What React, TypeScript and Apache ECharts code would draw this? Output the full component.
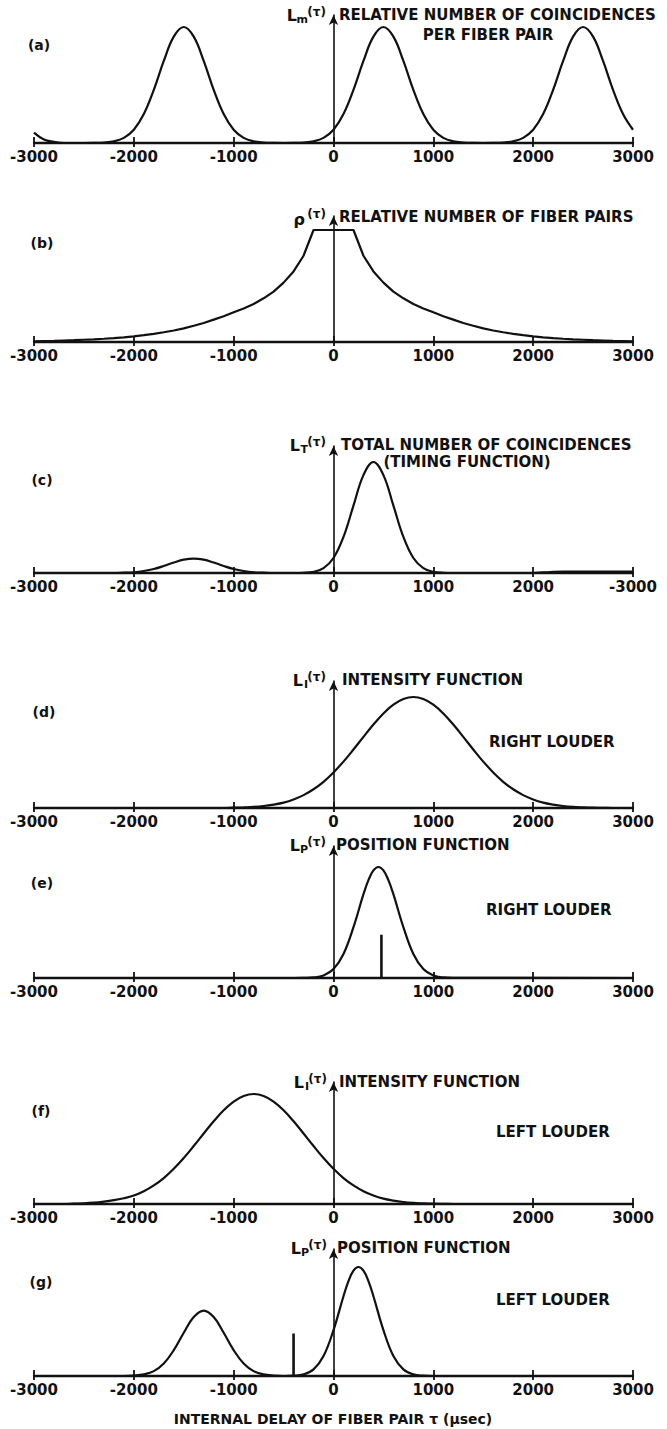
import React, { useEffect, useRef } from "react";
import * as echarts from "echarts";

// Internal delay of fiber pair, tau (usec)
const TAU = [
  -3000, -2900, -2800, -2700, -2600, -2500, -2400, -2300, -2200, -2100,
  -2000, -1900, -1800, -1700, -1600, -1500, -1400, -1300, -1200, -1100,
  -1000, -900, -800, -700, -600, -500, -400, -300, -200, -100,
  0,
  100, 200, 300, 400, 500, 600, 700, 800, 900, 1000,
  1100, 1200, 1300, 1400, 1500, 1600, 1700, 1800, 1900, 2000,
  2100, 2200, 2300, 2400, 2500, 2600, 2700, 2800, 2900, 3000,
];

const TICK_LABELS = ["-3000", "-2000", "-1000", "0", "1000", "2000", "3000"];
const TICK_LABELS_C = ["-3000", "-2000", "-1000", "0", "1000", "2000", "-3000"];

// (a) Lm(tau): relative number of coincidences per fiber pair
const L_M = [
  0.09, 0.03, 0.01, 0, 0, 0, 0.001, 0.004, 0.014, 0.044,
  0.114, 0.249, 0.458, 0.707, 0.917, 1, 0.917, 0.707, 0.458, 0.249,
  0.114, 0.044, 0.014, 0.004, 0.001, 0, 0.001, 0.004, 0.014, 0.044,
  0.114, 0.249, 0.458, 0.707, 0.917, 1, 0.917, 0.707, 0.458, 0.249,
  0.114, 0.044, 0.014, 0.004, 0.001, 0, 0.001, 0.004, 0.014, 0.044,
  0.114, 0.249, 0.458, 0.707, 0.917, 1, 0.917, 0.707, 0.458, 0.249,
  0.114,
];

// (b) rho(tau): relative number of fiber pairs
const RHO = [
  0.006, 0.008, 0.01, 0.013, 0.016, 0.02, 0.024, 0.029, 0.035, 0.042,
  0.051, 0.061, 0.073, 0.087, 0.103, 0.122, 0.145, 0.17, 0.2, 0.23,
  0.265, 0.3, 0.34, 0.39, 0.45, 0.53, 0.63, 0.77, 1, 1,
  1,
  1, 1, 0.77, 0.63, 0.53, 0.45, 0.39, 0.34, 0.3, 0.265,
  0.23, 0.2, 0.17, 0.145, 0.122, 0.103, 0.087, 0.073, 0.061, 0.051,
  0.042, 0.035, 0.029, 0.024, 0.02, 0.016, 0.013, 0.01, 0.008, 0.006,
];

// (c) LT(tau): total number of coincidences (timing function)
const L_T = [
  0, 0, 0, 0, 0, 0, 0, 0, 0, 0.003,
  0.007, 0.018, 0.036, 0.063, 0.094, 0.12, 0.13, 0.12, 0.094, 0.063,
  0.036, 0.018, 0.007, 0.003, 0, 0, 0, 0.002, 0.011, 0.044,
  0.135, 0.325, 0.607, 0.882, 1, 0.882, 0.607, 0.325, 0.135, 0.044,
  0.011, 0.002, 0, 0, 0, 0, 0, 0, 0, 0,
  0, 0.005, 0.01, 0.012, 0.012, 0.012, 0.012, 0.012, 0.012, 0.012,
  0.012,
];

// (d) LI(tau): intensity function, right louder
const L_I_RIGHT = [
  0, 0, 0, 0, 0, 0, 0, 0, 0, 0,
  0, 0, 0, 0, 0, 0, 0, 0, 0, 0,
  0.003, 0.006, 0.01, 0.018, 0.031, 0.049, 0.077, 0.116, 0.169, 0.236,
  0.32, 0.418, 0.527, 0.641, 0.752, 0.852, 0.931, 0.982, 1, 0.982,
  0.931, 0.852, 0.752, 0.641, 0.527, 0.418, 0.32, 0.236, 0.169, 0.116,
  0.077, 0.049, 0.031, 0.018, 0.01, 0.006, 0.003, 0.0016, 0, 0,
  0,
];

// (e) LP(tau): position function, right louder
const TAU_E = [
  -3000, -400, -300, -200, -100, 0, 100, 200, 300, 350, 400,
  450, 500, 550, 600, 700, 800, 900, 1000, 1100, 1200, 3000,
];
const L_P_RIGHT = [
  0, 0, 0.001, 0.005, 0.023, 0.08, 0.216, 0.458, 0.755, 0.882, 0.969,
  1, 0.969, 0.882, 0.755, 0.458, 0.216, 0.08, 0.023, 0.005, 0.001, 0,
];
const SPIKE_RIGHT = { tau: 480, height: 0.39 };

// (f) LI(tau): intensity function, left louder
const L_I_LEFT = [
  0, 0, 0, 0, 0.003, 0.006, 0.012, 0.022, 0.035, 0.052,
  0.077, 0.116, 0.169, 0.236, 0.32, 0.418, 0.527, 0.641, 0.752, 0.852,
  0.931, 0.982, 1, 0.982, 0.931, 0.852, 0.752, 0.641, 0.527, 0.418,
  0.32, 0.236, 0.169, 0.116, 0.077, 0.049, 0.031, 0.018, 0.01, 0.006,
  0.003, 0.0016, 0, 0, 0, 0, 0, 0, 0, 0,
  0, 0, 0, 0, 0, 0, 0, 0, 0, 0,
  0,
];

// (g) LP(tau): position function, left louder
const TAU_G = [
  -3000, -2100,
  -2000, -1900, -1800, -1700, -1600, -1500, -1400, -1300, -1200, -1100,
  -1000, -900, -800, -700, -600, -500, -400, -300, -200, -100,
  0, 100, 150, 200, 250, 300, 350, 400, 500, 600, 700, 800, 900, 1000, 3000,
];
const L_P_LEFT = [
  0, 0,
  0.004, 0.015, 0.045, 0.115, 0.237, 0.397, 0.541, 0.6, 0.541, 0.397,
  0.237, 0.115, 0.045, 0.015, 0.004, 0, 0.003, 0.015, 0.061, 0.183,
  0.421, 0.732, 0.871, 0.966, 1, 0.966, 0.871, 0.732, 0.421, 0.183, 0.061, 0.015, 0.003, 0, 0,
];
const SPIKE_LEFT = { tau: -400, height: 0.39 };

const FONT = "DejaVu Sans";
const INK = "#111111";
const W = 667;
const H = 1429;
const X_LEFT = 34;
const X_RIGHT = 633;

type Panel = {
  id: string;
  tau: number[];
  values: number[];
  tip: number; // pixel y of arrow tip
  axis: number; // pixel y of the tau axis
  peak: number; // pixel y for value 1
  labels: string[];
  spike?: { tau: number; height: number };
  smooth: number | boolean;
};

const PANELS: Panel[] = [
  { id: "a", tau: TAU, values: L_M, tip: 11, axis: 143, peak: 27, labels: TICK_LABELS, smooth: 0.4 },
  { id: "b", tau: TAU, values: RHO, tip: 212, axis: 342, peak: 230, labels: TICK_LABELS, smooth: false },
  { id: "c", tau: TAU, values: L_T, tip: 442, axis: 573, peak: 462, labels: TICK_LABELS_C, smooth: 0.4 },
  { id: "d", tau: TAU, values: L_I_RIGHT, tip: 677, axis: 808, peak: 697, labels: TICK_LABELS, smooth: 0.4 },
  { id: "e", tau: TAU_E, values: L_P_RIGHT, tip: 842, axis: 978, peak: 867, labels: TICK_LABELS, spike: SPIKE_RIGHT, smooth: 0.4 },
  { id: "f", tau: TAU, values: L_I_LEFT, tip: 1078, axis: 1204, peak: 1094, labels: TICK_LABELS, smooth: 0.4 },
  { id: "g", tau: TAU_G, values: L_P_LEFT, tip: 1245, axis: 1376, peak: 1267, labels: TICK_LABELS, spike: SPIKE_LEFT, smooth: 0.4 },
];

function txt(text: string, x: number, y: number, size: number, align = "left", weight = "bold") {
  return {
    type: "text",
    x,
    y,
    silent: true,
    style: {
      text,
      fontFamily: FONT,
      fontSize: size,
      fontWeight: weight,
      fill: INK,
      align,
      verticalAlign: "middle",
    },
  };
}

// L_sub(tau) label, right-aligned so that it ends at xr
function fnLabel(sub: string, subW: number, xr: number, y: number) {
  return [
    txt("(τ)", xr, y - 3, 12, "right"),
    txt(sub, xr - 18, y + 4, 11, "right"),
    txt("L", xr - 18 - subW - 1, y, 16, "right"),
  ];
}

export default function App() {
  const ref = useRef<HTMLDivElement>(null);

  useEffect(() => {
    if (!ref.current) return;
    const chart = echarts.init(ref.current, null, { renderer: "svg", width: W, height: H });

    const grids: any[] = [];
    const xAxes: any[] = [];
    const yAxes: any[] = [];
    const series: any[] = [];

    PANELS.forEach((p, k) => {
      const top = p.tip + 4;
      const yMax = (p.axis - top) / (p.axis - p.peak);
      grids.push({ left: X_LEFT, width: X_RIGHT - X_LEFT, top, height: p.axis - top, containLabel: false });
      const labels = p.labels;
      xAxes.push({
        type: "value",
        gridIndex: k,
        position: "bottom",
        min: -3000,
        max: 3000,
        interval: 1000,
        axisLine: { show: true, onZero: false, lineStyle: { color: INK, width: 2.3 } },
        axisTick: { show: true, inside: false, length: 4, lineStyle: { color: INK, width: 1.8 } },
        axisLabel: {
          show: true,
          margin: 6,
          fontFamily: FONT,
          fontSize: 15,
          fontWeight: "bold",
          color: INK,
          showMinLabel: true,
          showMaxLabel: true,
          formatter: (v: number) => labels[Math.round((v + 3000) / 1000)] ?? String(v),
        },
        splitLine: { show: false },
      });
      xAxes.push({
        type: "value",
        gridIndex: k,
        position: "bottom",
        offset: 0,
        min: -3000,
        max: 3000,
        interval: 1000,
        axisLine: { show: false, onZero: false },
        axisTick: { show: true, inside: true, length: 6, lineStyle: { color: INK, width: 1.8 } },
        axisLabel: { show: false },
        splitLine: { show: false },
      });
      yAxes.push({
        type: "value",
        gridIndex: k,
        min: 0,
        max: yMax,
        axisLine: {
          show: true,
          onZero: true,
          onZeroAxisIndex: 2 * k,
          symbol: ["none", "arrow"],
          symbolSize: [7, 10],
          lineStyle: { color: INK, width: 1.6 },
        },
        axisTick: { show: false },
        axisLabel: { show: false },
        splitLine: { show: false },
      });
      series.push({
        type: "line",
        name: p.id,
        xAxisIndex: 2 * k,
        yAxisIndex: k,
        data: p.tau.map((t, i) => [t, p.values[i]]),
        showSymbol: false,
        symbol: "none",
        smooth: p.smooth,
        lineStyle: { color: INK, width: 2.2 },
        silent: true,
        z: 3,
      });
      if (p.spike) {
        series.push({
          type: "line",
          name: p.id + "-spike",
          xAxisIndex: 2 * k,
          yAxisIndex: k,
          data: [
            [p.spike.tau, 0],
            [p.spike.tau, p.spike.height],
          ],
          showSymbol: false,
          symbol: "none",
          lineStyle: { color: INK, width: 2.6 },
          silent: true,
          z: 3,
        });
      }
    });

    const graphics: any[] = [
      // (a)
      txt("(a)", 39, 45, 14, "center"),
      ...fnLabel("m", 10, 326, 15),
      txt("RELATIVE NUMBER OF COINCIDENCES", 339, 15, 15),
      txt("PER FIBER PAIR", 488, 35, 15, "center"),
      // (b)
      txt("(b)", 42, 243, 14, "center"),
      txt("ρ", 305, 219, 16, "right"),
      txt("(τ)", 326, 214, 12, "right"),
      txt("RELATIVE NUMBER OF FIBER PAIRS", 339, 217, 15),
      // (c)
      txt("(c)", 42, 480, 14, "center"),
      ...fnLabel("T", 7, 326, 445),
      txt("TOTAL NUMBER OF COINCIDENCES", 341, 445, 15),
      txt("(TIMING FUNCTION)", 467, 462, 15, "center"),
      // (d)
      txt("(d)", 44, 712, 14, "center"),
      ...fnLabel("I", 4, 326, 680),
      txt("INTENSITY FUNCTION", 342, 680, 15),
      txt("RIGHT LOUDER", 489, 742, 15),
      // (e)
      txt("(e)", 42, 883, 14, "center"),
      ...fnLabel("P", 7, 326, 845),
      txt("POSITION FUNCTION", 336, 845, 15),
      txt("RIGHT LOUDER", 486, 910, 15),
      // (f)
      txt("(f)", 41, 1111, 14, "center"),
      ...fnLabel("I", 4, 327, 1082),
      txt("INTENSITY FUNCTION", 339, 1082, 15),
      txt("LEFT LOUDER", 496, 1132, 15),
      // (g)
      txt("(g)", 41, 1282, 14, "center"),
      ...fnLabel("P", 7, 327, 1248),
      txt("POSITION FUNCTION", 337, 1248, 15),
      txt("LEFT LOUDER", 496, 1300, 15),
      // axis title
      txt("INTERNAL DELAY OF FIBER PAIR τ (μsec)", 333, 1419, 14, "center"),
    ];

    chart.setOption({
      animation: false,
      backgroundColor: "#ffffff",
      grid: grids,
      xAxis: xAxes,
      yAxis: yAxes,
      series,
      graphic: graphics,
    });

    return () => chart.dispose();
  }, []);

  return (
    <div
      ref={ref}
      style={{ position: "absolute", left: 0, top: 0, width: W, height: H, background: "#fff" }}
    />
  );
}
